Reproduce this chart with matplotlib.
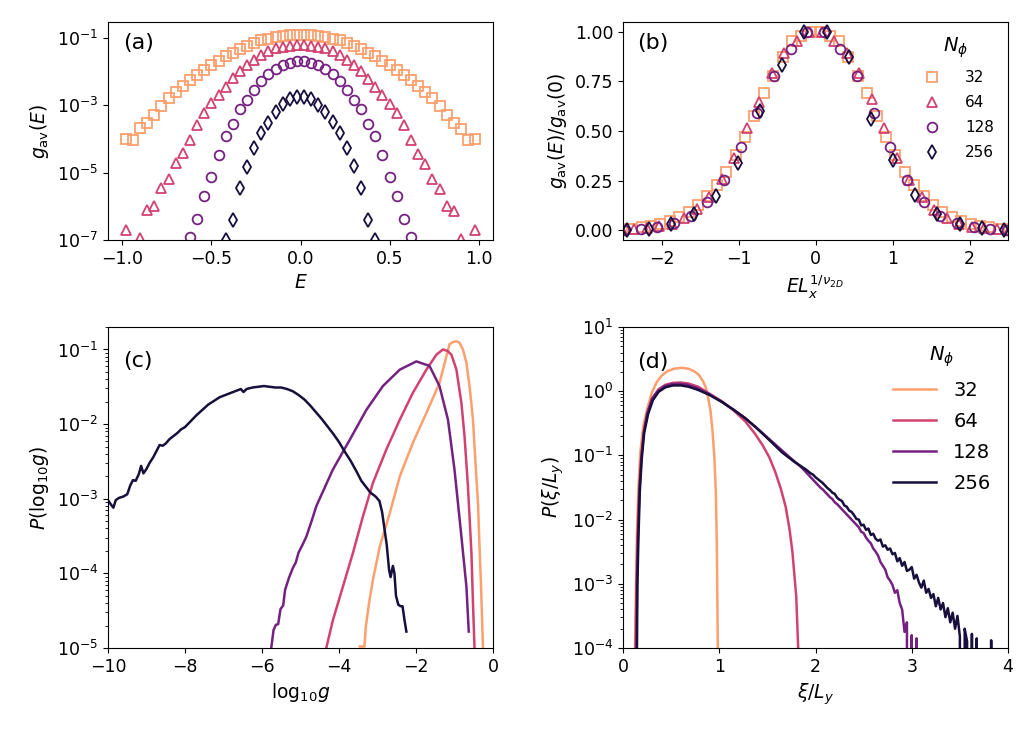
import numpy as np
import matplotlib
matplotlib.use("Agg")
import matplotlib.pyplot as plt
from matplotlib.ticker import LogLocator, NullLocator, NullFormatter, FixedLocator

nan = np.nan

# system sizes
n_phi = ["32", "64", "128", "256"]
cmap = plt.get_cmap("magma")
colors = [cmap(0.8), cmap(0.57), cmap(0.34), cmap(0.11)]
markers = ["s", "^", "o", "d"]

# (a) energy grid and log10 g_av(E)
energy = np.round(np.arange(-0.98, 0.99, 0.04), 2)
log_g32 = [-4.02, -4.04, -3.68, -3.52, -3.28, -3.02, -2.80, -2.62, -2.44, -2.26, -2.10, -1.96, -1.82,
           -1.68, -1.56, -1.45, -1.34, -1.25, -1.16, -1.08, -1.03, -0.98, -0.94, -0.93, -0.92,
           -0.92, -0.93, -0.94, -0.98, -1.03, -1.08, -1.16, -1.25, -1.34, -1.45, -1.56, -1.68,
           -1.82, -1.96, -2.10, -2.26, -2.44, -2.62, -2.80, -3.02, -3.28, -3.52, -3.70, -4.05, -4.02]
log_g64 = [-6.70, nan, -6.95, -6.10, -6.00, -5.47, -5.20, -4.73, -4.43, -4.03, -3.59, -3.24, -2.95,
           -2.70, -2.45, -2.20, -2.00, -1.81, -1.66, -1.51, -1.41, -1.32, -1.27, -1.24, -1.22,
           -1.22, -1.24, -1.27, -1.32, -1.40, -1.51, -1.66, -1.82, -2.00, -2.22, -2.45, -2.70,
           -2.97, -3.24, -3.60, -4.03, -4.45, -4.75, -5.20, -5.50, -6.00, -6.15, -6.98, nan, -6.70]
log_g128 = [nan, nan, nan, nan, nan, nan, nan, nan, nan, -6.92, -6.39, -5.69, -5.12,
            -4.48, -3.93, -3.56, -3.12, -2.85, -2.55, -2.30, -2.08, -1.93, -1.81, -1.74, -1.70,
            -1.70, -1.74, -1.81, -1.93, -2.08, -2.30, -2.55, -2.85, -3.12, -3.56, -3.93, -4.48,
            -5.12, -5.69, -6.39, -6.92, nan, nan, nan, nan, nan, nan, nan, nan, nan]
log_g256 = [nan, nan, nan, nan, nan, nan, nan, nan, nan, nan, nan, nan, nan,
            nan, -7.00, -6.40, -5.45, -4.85, -4.28, -3.84, -3.52, -3.22, -2.97, -2.83, -2.75,
            -2.75, -2.81, -3.00, -3.20, -3.50, -3.84, -4.28, -4.82, -5.47, -6.41, -7.00, nan,
            nan, nan, nan, nan, nan, nan, nan, nan, nan, nan, nan, nan, nan]
# (b) scale factors L_x^{1/nu}
scale_factor = [3.05, 4.06, 5.4, 7.2]

# (c) P(log10 g)
c_x32 = [-3.46, -3.34, -3.30, -3.22, -3.12, -2.94, -2.68, -2.42, -2.08, -1.73, -1.39, -1.13, -1.04,
         -0.95, -0.87, -0.78, -0.69, -0.61, -0.52, -0.46, -0.39, -0.35, -0.31, -0.26]
c_lp32 = [-4.98, -4.98, -4.70, -4.40, -4.09, -3.64, -3.19, -2.70, -2.25, -1.85, -1.45, -0.93, -0.90,
          -0.89, -0.91, -1.00, -1.18, -1.49, -1.94, -2.48, -3.06, -3.64, -4.18, -5.00]
c_x64 = [-4.33, -4.16, -3.90, -3.64, -3.38, -3.12, -2.77, -2.42, -2.08, -1.73, -1.47, -1.30, -1.18,
         -1.08, -0.95, -0.82, -0.74, -0.65, -0.56, -0.52, -0.48]
c_lp64 = [-5.00, -4.63, -4.18, -3.73, -3.24, -2.79, -2.34, -1.94, -1.58, -1.27, -1.07, -1.00, -1.02,
          -1.07, -1.27, -1.72, -2.16, -2.84, -3.73, -4.40, -5.00]
c_x128 = [-5.76, -5.70, -5.64, -5.58, -5.52, -5.45, -5.40, -5.30, -5.20, -5.12, -5.05, -4.95, -4.85,
          -4.70, -4.59, -4.16, -3.72, -3.29, -2.86, -2.42, -1.99, -1.65, -1.39, -1.17, -1.00, -0.82,
          -0.69, -0.63]
c_lp128 = [-5.00, -4.76, -4.69, -4.68, -4.48, -4.43, -4.22, -4.06, -3.93, -3.85, -3.72, -3.62, -3.51,
           -3.28, -3.10, -2.61, -2.21, -1.81, -1.49, -1.27, -1.16, -1.22, -1.49, -1.94, -2.61, -3.51,
           -4.18, -4.78]
c_x256 = [-10.0, -9.92, -9.86, -9.80, -9.72, -9.60, -9.50, -9.42, -9.35, -9.28, -9.20, -9.14, -9.08,
          -9.00, -8.92, -8.82, -8.72, -8.66, -8.58, -8.50, -8.40, -8.30, -8.20, -8.10, -8.00, -7.85,
          -7.70, -7.55, -7.40, -7.25, -7.10, -6.95, -6.80, -6.65, -6.55, -6.48, -6.40, -6.25, -6.10,
          -5.95, -5.80, -5.65, -5.50, -5.35, -5.20, -5.05, -4.90, -4.75, -4.60, -4.45, -4.30, -4.15,
          -4.00, -3.85, -3.70, -3.55, -3.42, -3.30, -3.18, -3.05, -2.95, -2.88, -2.82, -2.76, -2.70,
          -2.66, -2.60, -2.56, -2.52, -2.46, -2.40, -2.35, -2.30, -2.25]
c_lp256 = [-3.02, -3.08, -3.12, -3.02, -2.99, -2.97, -2.94, -2.82, -2.75, -2.76, -2.67, -2.56, -2.66,
           -2.60, -2.52, -2.44, -2.34, -2.28, -2.29, -2.26, -2.20, -2.16, -2.12, -2.07, -2.04, -1.96,
           -1.88, -1.81, -1.74, -1.69, -1.64, -1.61, -1.58, -1.55, -1.53, -1.57, -1.53, -1.51, -1.50,
           -1.49, -1.50, -1.51, -1.51, -1.53, -1.56, -1.61, -1.67, -1.75, -1.84, -1.93, -2.03, -2.13,
           -2.24, -2.37, -2.49, -2.63, -2.76, -2.84, -2.92, -2.97, -3.03, -3.18, -3.40, -3.62, -3.95,
           -4.05, -3.90, -4.00, -4.30, -4.42, -4.44, -4.44, -4.62, -4.78]

# (d) P(xi/L_y); None = empty bin
d_x32 = [0.125, 0.135, 0.145, 0.16, 0.18, 0.21, 0.25, 0.30, 0.35, 0.40, 0.46, 0.53, 0.61, 0.68,
         0.74, 0.79, 0.83, 0.86, 0.885, 0.91, 0.93, 0.95, 0.965, 0.975, 0.985]
d_lp32 = [-4.0, -3.0, -2.2, -1.5, -0.95, -0.55, -0.28, -0.02, 0.14, 0.24, 0.31, 0.35, 0.365, 0.35,
          0.31, 0.25, 0.16, 0.06, -0.10, -0.32, -0.62, -1.05, -1.6, -2.4, -4.0]
d_x64 = [0.13, 0.14, 0.15, 0.17, 0.19, 0.22, 0.26, 0.31, 0.37, 0.44, 0.52, 0.60, 0.68, 0.78, 0.90,
         1.03, 1.15, 1.27, 1.37, 1.45, 1.52, 1.58, 1.64, 1.69, 1.73, 1.76, 1.78, 1.80, 1.81, 1.82]
d_lp64 = [-4.0, -3.0, -2.3, -1.5, -1.0, -0.6, -0.32, -0.1, 0.03, 0.10, 0.13, 0.135, 0.12, 0.07,
          -0.04, -0.16, -0.30, -0.47, -0.66, -0.84, -1.03, -1.25, -1.52, -1.80, -2.15, -2.5, -2.85,
          -3.2, -3.6, -4.0]
d_x128 = [0.14, 0.145, 0.155, 0.17, 0.19, 0.215, 0.25, 0.30, 0.36, 0.43, 0.51, 0.59, 0.67, 0.77,
          0.89, 1.02, 1.14, 1.26, 1.38, 1.50, 1.62, 1.74,
          1.850, 1.875, 1.900, 1.925, 1.950, 1.975, 2.000, 2.025, 2.050, 2.075, 2.100, 2.125, 2.150,
          2.175, 2.200, 2.225, 2.250, 2.275, 2.300, 2.325, 2.350, 2.375, 2.400, 2.425, 2.450, 2.475,
          2.500, 2.525, 2.550, 2.575, 2.600, 2.625, 2.650, 2.675, 2.700, 2.725, 2.750, 2.775, 2.800,
          2.825, 2.850, 2.875, 2.900, 2.925, 2.950, 2.975, 3.000, 3.025, 3.050, 3.075]
d_lp128 = [-4.0, -3.0, -2.3, -1.55, -1.05, -0.65, -0.35, -0.12, 0.0, 0.08, 0.11, 0.115, 0.10, 0.05,
           -0.04, -0.16, -0.28, -0.41, -0.56, -0.72, -0.88, -1.04,
           -1.18, -1.22, -1.26, -1.30, -1.34, -1.38, -1.42, -1.46, -1.50, -1.53, -1.57, -1.61, -1.65,
           -1.68, -1.73, -1.76, -1.80, -1.84, -1.88, -1.92, -1.96, -2.00, -2.04, -2.08, -2.12, -2.19,
           -2.21, -2.28, -2.33, -2.37, -2.45, -2.50, -2.56, -2.66, -2.72, -2.78, -2.90, -2.95, -3.02,
           -3.14, -3.10, -3.30, -3.40, -3.75, -3.60, None, -3.80, None, -3.85, None]
d_x256 = [0.145, 0.15, 0.16, 0.175, 0.195, 0.22, 0.26, 0.31, 0.37, 0.44, 0.52, 0.60, 0.68, 0.78,
          0.90, 1.03, 1.15, 1.27, 1.40, 1.52, 1.65, 1.78,
          1.900, 1.925, 1.950, 1.975, 2.000, 2.025, 2.050, 2.075, 2.100, 2.125, 2.150, 2.175, 2.200,
          2.225, 2.250, 2.275, 2.300, 2.325, 2.350, 2.375, 2.400, 2.425, 2.450, 2.475, 2.500, 2.525,
          2.550, 2.575, 2.600, 2.625, 2.650, 2.675, 2.700, 2.725, 2.750, 2.775, 2.800, 2.825, 2.850,
          2.875, 2.900, 2.925, 2.950, 2.975, 3.000, 3.025, 3.050, 3.075, 3.100, 3.125, 3.150, 3.175,
          3.200, 3.225, 3.250, 3.275, 3.300, 3.325, 3.350, 3.375, 3.400, 3.425, 3.450, 3.475, 3.500,
          3.525, 3.550, 3.575, 3.600, 3.625, 3.650, 3.675, 3.700, 3.725, 3.750, 3.775, 3.800, 3.825,
          3.850]
d_lp256 = [-4.0, -3.0, -2.3, -1.55, -1.05, -0.65, -0.36, -0.14, -0.01, 0.06, 0.09, 0.09, 0.07, 0.02,
           -0.06, -0.17, -0.29, -0.42, -0.59, -0.76, -0.95, -1.10,
           -1.22, -1.25, -1.28, -1.30, -1.34, -1.37, -1.40, -1.43, -1.47, -1.51, -1.54, -1.58, -1.60,
           -1.66, -1.69, -1.71, -1.78, -1.80, -1.86, -1.88, -1.93, -1.99, -2.00, -2.09, -2.08, -2.16,
           -2.14, -2.24, -2.22, -2.30, -2.33, -2.31, -2.42, -2.40, -2.47, -2.45, -2.54, -2.52, -2.65,
           -2.60, -2.72, -2.66, -2.80, -2.78, -2.74, -2.92, -2.86, -2.98, -3.06, -2.95, -3.14, -3.08,
           -3.22, -3.16, -3.35, -3.22, -3.40, -3.30, -3.52, -3.38, -3.60, -3.45, -3.70, -3.50, -3.82,
           None, -3.70, -3.90, None, -3.78, None, -3.85, None, None, None, None, None, -3.88,
           None]


def from_log(vals):
    return np.array([0.0 if v is None else 10.0 ** v for v in vals])


TICK = 12.5
LABEL = 13.5
plt.rcParams["font.size"] = TICK
plt.rcParams["xtick.labelsize"] = TICK
plt.rcParams["ytick.labelsize"] = TICK

fig = plt.figure(figsize=(10.3, 7.32), dpi=100)
W, H = 1030.0, 732.0


def rect(l, t, r, b):
    return [l / W, 1 - b / H, (r - l) / W, (b - t) / H]


ax_a = fig.add_axes(rect(108, 22, 493, 240))
ax_b = fig.add_axes(rect(623, 22, 1008, 240))
ax_c = fig.add_axes(rect(108, 327, 493, 648))
ax_d = fig.add_axes(rect(623, 327, 1008, 648))

# (a)
log_g = [log_g32, log_g64, log_g128, log_g256]
for lg, col, mk, lab in zip(log_g, colors, markers, n_phi):
    ax_a.plot(energy, 10.0 ** np.array(lg), ls="none", marker=mk, ms=7, mfc="none",
              mec=col, mew=1.3, label=lab)
ax_a.set_yscale("log")
ax_a.set_ylim(1e-7, 0.29)
ax_a.set_xlim(-1.08, 1.08)
ax_a.yaxis.set_major_locator(FixedLocator([1e-7, 1e-5, 1e-3, 1e-1]))
ax_a.yaxis.set_minor_locator(NullLocator())
ax_a.set_xticks([-1.0, -0.5, 0.0, 0.5, 1.0])
ax_a.set_xlabel(r"$E$", fontsize=LABEL)
ax_a.set_ylabel(r"$g_{\rm av}(E)$", fontsize=LABEL)
ax_a.text(0.04, 0.95, "(a)", transform=ax_a.transAxes, fontsize=16, va="top")

# (b)
for lg, col, mk, lab, s in zip(log_g, colors, markers, n_phi, scale_factor):
    g = 10.0 ** np.array(lg)
    ax_b.plot(energy * s, g / np.nanmax(g), ls="none", marker=mk, ms=7, mfc="none",
              mec=col, mew=1.3, label=lab)
ax_b.set_xlim(-2.5, 2.5)
ax_b.set_ylim(-0.05, 1.05)
ax_b.set_yticks([0.0, 0.25, 0.5, 0.75, 1.0])
ax_b.set_xticks([-2, -1, 0, 1, 2])
ax_b.yaxis.set_major_formatter(matplotlib.ticker.FormatStrFormatter("%.2f"))
ax_b.set_xlabel(r"$EL_x^{1/\nu_{2D}}$", fontsize=LABEL)
ax_b.set_ylabel(r"$g_{\rm av}(E)/g_{\rm av}(0)$", fontsize=LABEL)
ax_b.text(0.036, 0.95, "(b)", transform=ax_b.transAxes, fontsize=16, va="top")
ax_b.legend(title=r"$N_\phi$", frameon=False, loc="upper right", fontsize=11,
            title_fontsize=14, labelspacing=0.65, handletextpad=1.2)

# (c)
c_x = [c_x32, c_x64, c_x128, c_x256]
c_lp = [c_lp32, c_lp64, c_lp128, c_lp256]
for xs, lp, col in zip(c_x, c_lp, colors):
    ax_c.plot(xs, from_log(lp), color=col, lw=1.8)
ax_c.set_yscale("log")
ax_c.set_ylim(1e-5, 0.2)
ax_c.set_xlim(-10, 0)
ax_c.set_xticks([-10, -8, -6, -4, -2, 0])
ax_c.yaxis.set_minor_formatter(NullFormatter())
ax_c.set_xlabel(r"$\mathrm{log}_{10}g$", fontsize=LABEL)
ax_c.set_ylabel(r"$P(\mathrm{log}_{10}g)$", fontsize=LABEL)
ax_c.text(0.04, 0.925, "(c)", transform=ax_c.transAxes, fontsize=16, va="top")

# (d)
d_x = [d_x32, d_x64, d_x128, d_x256]
d_lp = [d_lp32, d_lp64, d_lp128, d_lp256]
for xs, lp, col, lab in zip(d_x, d_lp, colors, n_phi):
    ax_d.plot(xs, from_log(lp), color=col, lw=1.8, label=lab)
ax_d.set_yscale("log")
ax_d.set_ylim(1e-4, 10)
ax_d.set_xlim(0, 4)
ax_d.set_xticks([0, 1, 2, 3, 4])
ax_d.yaxis.set_major_locator(LogLocator(base=10.0, numticks=10))
ax_d.yaxis.set_minor_locator(LogLocator(base=10.0, subs=np.arange(2, 10), numticks=20))
ax_d.yaxis.set_minor_formatter(NullFormatter())
ax_d.set_xlabel(r"$\xi/L_y$", fontsize=LABEL)
ax_d.set_ylabel(r"$P(\xi/L_y)$", fontsize=LABEL)
ax_d.text(0.036, 0.923, "(d)", transform=ax_d.transAxes, fontsize=16, va="top")
ax_d.legend(title=r"$N_\phi$", frameon=False, loc="upper right", fontsize=14,
            title_fontsize=14, handlelength=2.2, handletextpad=0.9, labelspacing=0.62)

fig.savefig("out.png", dpi=100)
